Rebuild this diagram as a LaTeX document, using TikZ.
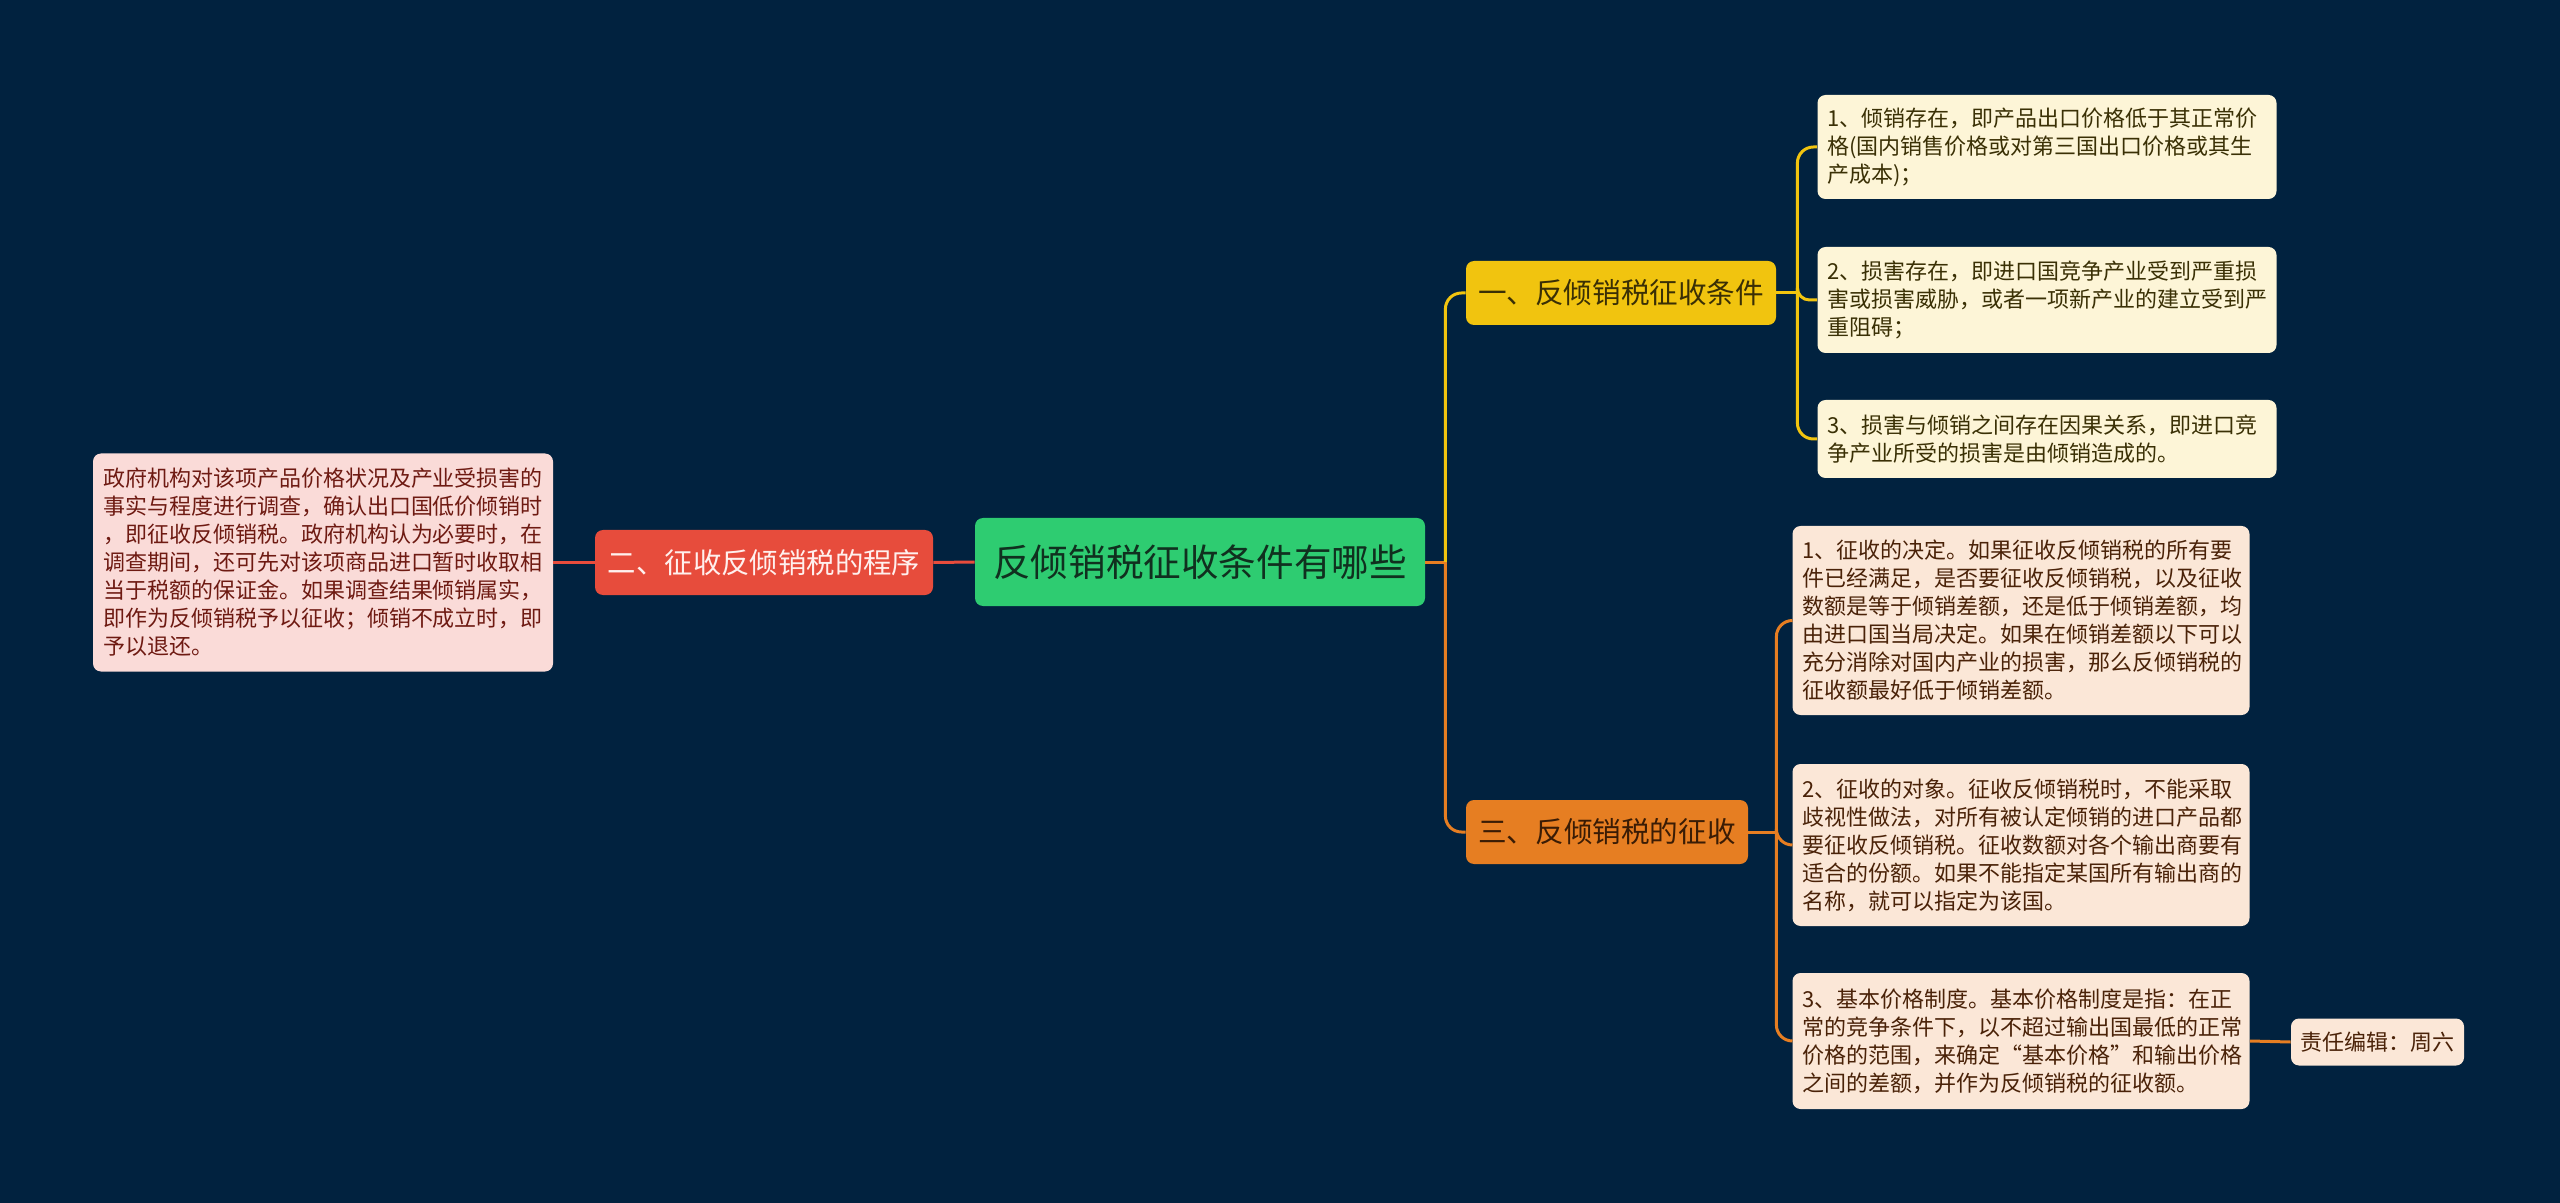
\documentclass[tikz,border=0pt]{standalone}
\usepackage{fontspec}
\setmainfont{Noto Sans CJK SC}
\definecolor{bg}{HTML}{01223F}
\definecolor{cgreen}{HTML}{2ECC71}
\definecolor{cgreentext}{HTML}{10301F}
\definecolor{cred}{HTML}{E74C3C}
\definecolor{credtext}{HTML}{FFF0EE}
\definecolor{cyel}{HTML}{F1C40F}
\definecolor{cyeltext}{HTML}{3A2F05}
\definecolor{corg}{HTML}{E67E22}
\definecolor{corgtext}{HTML}{3A1C05}
\definecolor{leafyel}{HTML}{FDF5D7}
\definecolor{leafyeltext}{HTML}{3A3005}
\definecolor{leaforg}{HTML}{FBE7D7}
\definecolor{leaforgtext}{HTML}{4A2208}
\definecolor{leafpink}{HTML}{FADBD8}
\definecolor{leafpinktext}{HTML}{6E1A12}
\tikzset{
  box/.style={rounded corners=4pt, inner ysep=0pt, draw=none},
  rootbox/.style={box, fill=cgreen, text=cgreentext, inner xsep=0pt,
    minimum width=225pt, minimum height=44pt, font=\fontsize{18.8pt}{22pt}\selectfont},
  redbox/.style={box, fill=cred, text=credtext, inner xsep=0pt,
    minimum width=169pt, minimum height=32.5pt, font=\fontsize{14.2pt}{18pt}\selectfont},
  yelbox/.style={box, fill=cyel, text=cyeltext, inner xsep=0pt,
    minimum width=155pt, minimum height=32pt, font=\fontsize{14.3pt}{18pt}\selectfont},
  orgbox/.style={box, fill=corg, text=corgtext, inner xsep=0pt,
    minimum width=141pt, minimum height=32pt, font=\fontsize{14.3pt}{18pt}\selectfont},
  leafbase/.style={box, inner xsep=5pt, align=left, font=\fontsize{11pt}{14pt}\selectfont},
  leafY/.style={leafbase, fill=leafyel, text=leafyeltext, text width=219.5pt},
  leafO/.style={leafbase, fill=leaforg, text=leaforgtext, text width=218.5pt},
  leafP/.style={leafbase, fill=leafpink, text=leafpinktext, text width=220pt},
  editbox/.style={box, fill=leaforg, text=leaforgtext, inner xsep=0pt,
    minimum width=86.5pt, minimum height=23.5pt, font=\fontsize{11pt}{14pt}\selectfont},
  lineY/.style={draw=cyel, line width=1.5pt},
  lineO/.style={draw=corg, line width=1.5pt},
  lineR/.style={draw=cred, line width=1.5pt},
}
\begin{document}
\begin{tikzpicture}[x=0.5pt,y=-0.5pt]
\fill[bg] (0,0) rectangle (2560,1203);
\useasboundingbox (0,0) rectangle (2560,1203);

% main nodes
\node[rootbox] (root) at (1200,562) {反倾销税征收条件有哪些};
\node[redbox] (red) at (764,562.5) {二、征收反倾销税的程序};
\node[leafP, minimum height=109pt] (pink) at (323,562.5) {政府机构对该项产品价格状况及产业受损害的\\事实与程度进行调查，确认出口国低价倾销时\\，即征收反倾销税。政府机构认为必要时，在\\调查期间，还可先对该项商品进口暂时收取相\\当于税额的保证金。如果调查结果倾销属实，\\即作为反倾销税予以征收；倾销不成立时，即\\予以退还。};
\node[yelbox] (yel) at (1621,293) {一、反倾销税征收条件};
\node[orgbox] (org) at (1607,832) {三、反倾销税的征收};

% yellow leaves
\node[leafY, minimum height=52pt] (y1) at (2047,147) {1、倾销存在，即产品出口价格低于其正常价\\格(国内销售价格或对第三国出口价格或其生\\产成本)；};
\node[leafY, minimum height=53pt] (y2) at (2047,300) {2、损害存在，即进口国竞争产业受到严重损\\害或损害威胁，或者一项新产业的建立受到严\\重阻碍；};
\node[leafY, minimum height=39pt] (y3) at (2047,439) {3、损害与倾销之间存在因果关系，即进口竞\\争产业所受的损害是由倾销造成的。};

% orange leaves
\node[leafO, minimum height=94.5pt] (o1) at (2021,620.5) {1、征收的决定。如果征收反倾销税的所有要\\件已经满足，是否要征收反倾销税，以及征收\\数额是等于倾销差额，还是低于倾销差额，均\\由进口国当局决定。如果在倾销差额以下可以\\充分消除对国内产业的损害，那么反倾销税的\\征收额最好低于倾销差额。};
\node[leafO, minimum height=81pt] (o2) at (2021,845) {2、征收的对象。征收反倾销税时，不能采取\\歧视性做法，对所有被认定倾销的进口产品都\\要征收反倾销税。征收数额对各个输出商要有\\适合的份额。如果不能指定某国所有输出商的\\名称，就可以指定为该国。};
\node[leafO, minimum height=68pt] (o3) at (2021,1041) {3、基本价格制度。基本价格制度是指：在正\\常的竞争条件下，以不超过输出国最低的正常\\价格的范围，来确定“基本价格”和输出价格\\之间的差额，并作为反倾销税的征收额。};
\node[editbox] (ed) at (2377.5,1042) {责任编辑：周六};

% connectors left
\draw[lineR] (root.west) -- (red.east);
\draw[lineR] (red.west) -- (pink.east);

% trunk from root
\draw[lineO] (root.east) -- ++(20,0) coordinate (t0);
\draw[lineY, rounded corners=8pt] (t0) |- (yel.west);
\draw[lineO, rounded corners=8pt] (t0) |- (org.west);

% yellow branch
\draw[lineY] (yel.east) -- ++(21,0) coordinate (t1);
\draw[lineY, rounded corners=8pt] (t1) |- (y1.west);
\draw[lineY, rounded corners=6pt] (t1) |- (y2.west);
\draw[lineY, rounded corners=8pt] (t1) |- (y3.west);

% orange branch
\draw[lineO] (org.east) -- ++(28,0) coordinate (t2);
\draw[lineO, rounded corners=8pt] (t2) |- (o1.west);
\draw[lineO, rounded corners=8pt] (t2) |- (o2.west);
\draw[lineO, rounded corners=8pt] (t2) |- (o3.west);
\draw[lineO] (o3.east) -- (ed.west);
\end{tikzpicture}
\end{document}
